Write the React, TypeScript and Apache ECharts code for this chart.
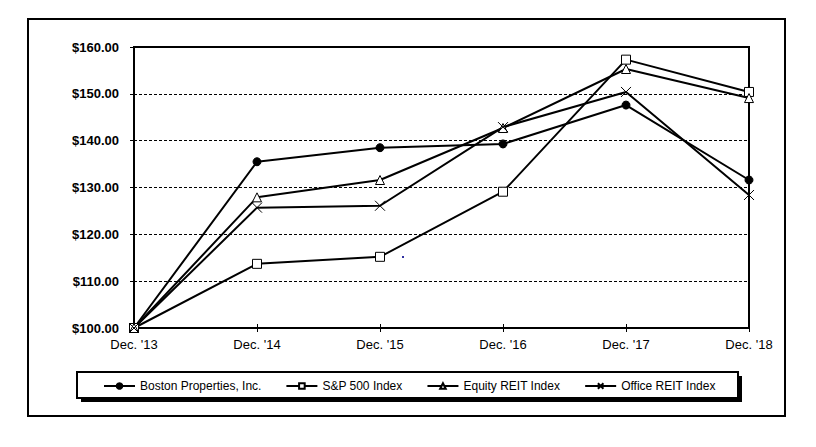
import React, { useEffect, useRef } from "react";
import * as echarts from "echarts";

const categories = ["Dec. '13", "Dec. '14", "Dec. '15", "Dec. '16", "Dec. '17", "Dec. '18"];
const bostonProperties = [100, 135.5, 138.5, 139.3, 147.6, 131.6];
const sp500 = [100, 113.7, 115.2, 129.1, 157.3, 150.4];
const equityReit = [100, 127.9, 131.6, 142.7, 155.3, 149.1];
const officeReit = [100, 125.7, 126.1, 142.9, 150.4, 128.4];
const seriesNames = ["Boston Properties, Inc.", "S&P 500 Index", "Equity REIT Index", "Office REIT Index"];
const yMin = 100;
const yMax = 160;
const yStep = 10;

const crossPath = "path://M0,0L10,10M10,0L0,10";

export default function App() {
  const ref = useRef<HTMLDivElement>(null);
  useEffect(() => {
    if (!ref.current) return;
    const chart = echarts.init(ref.current, null, { renderer: "svg" });
    const font = "'Liberation Sans', Arial, sans-serif";
    const mk = (name: string, data: number[], symbol: string, size: number, fill: string) => ({
      name,
      type: "line",
      data,
      symbol,
      symbolSize: size,
      showAllSymbol: true,
      lineStyle: { color: "#000", width: 2 },
      itemStyle: { color: fill, borderColor: "#000", borderWidth: 1 },
      emphasis: { disabled: true },
      z: 3,
    });
    chart.setOption({
      animation: false,
      backgroundColor: "#fff",
      textStyle: { fontFamily: font },
      grid: {
        left: 134,
        top: 47,
        right: 67,
        bottom: 119,
        show: true,
        borderColor: "#000",
        borderWidth: 2,
        backgroundColor: "transparent",
      },
      xAxis: [
        {
          type: "category",
          data: categories,
          boundaryGap: false,
          axisLine: { lineStyle: { color: "#000", width: 2 } },
          axisTick: { show: true, length: 4, lineStyle: { color: "#000", width: 1 } },
          axisLabel: { color: "#000", fontSize: 13, fontFamily: font, margin: 10 },
          splitLine: { show: false },
        },
        {
          type: "category",
          data: categories,
          boundaryGap: false,
          position: "bottom",
          axisLine: { show: false },
          axisTick: { show: true, inside: true, length: 4, lineStyle: { color: "#000", width: 1 } },
          axisLabel: { show: false },
          splitLine: { show: false },
        },
      ],
      yAxis: {
        type: "value",
        min: yMin,
        max: yMax,
        interval: yStep,
        axisLine: { show: true, lineStyle: { color: "#000", width: 2 } },
        axisTick: { show: true, length: 4, lineStyle: { color: "#000", width: 1 } },
        axisLabel: {
          color: "#000",
          fontSize: 13,
          fontWeight: "bold",
          fontFamily: font,
          margin: 15,
          formatter: (v: number) => "$" + v.toFixed(2),
        },
        splitLine: { show: true, lineStyle: { color: "#000", width: 1, type: [3, 2] } },
      },
      legend: {
        show: true,
        left: 103,
        top: 380,
        padding: 0,
        itemGap: 24,
        itemWidth: 31,
        itemHeight: 7,
        textStyle: { color: "#000", fontSize: 12, fontFamily: font },
        data: seriesNames,
      },
      graphic: [
        {
          type: "rect",
          shape: { x: 28, y: 19, width: 757, height: 397 },
          style: { fill: "none", stroke: "#000", lineWidth: 2 },
          z: 0,
          silent: true,
        },
        {
          type: "rect",
          shape: { x: 81, y: 376, width: 661, height: 26 },
          style: { fill: "#000" },
          z: 0,
          silent: true,
        },
        {
          type: "rect",
          shape: { x: 77, y: 372, width: 661, height: 26 },
          style: { fill: "#fff", stroke: "#000", lineWidth: 2 },
          z: 0,
          silent: true,
        },
        {
          type: "rect",
          shape: { x: 402, y: 256, width: 2, height: 2 },
          style: { fill: "#3030a0" },
          z: 1,
          silent: true,
        },
      ],
      series: [
        mk(seriesNames[0], bostonProperties, "circle", 8, "#000"),
        mk(seriesNames[1], sp500, "rect", 9, "#fff"),
        mk(seriesNames[2], equityReit, "triangle", 9, "#fff"),
        mk(seriesNames[3], officeReit, crossPath, 10, "#fff"),
      ],
    });
    return () => chart.dispose();
  }, []);
  return (
    <div
      ref={ref}
      style={{ position: "fixed", left: 0, top: 0, width: 816, height: 447, background: "#fff" }}
    />
  );
}
